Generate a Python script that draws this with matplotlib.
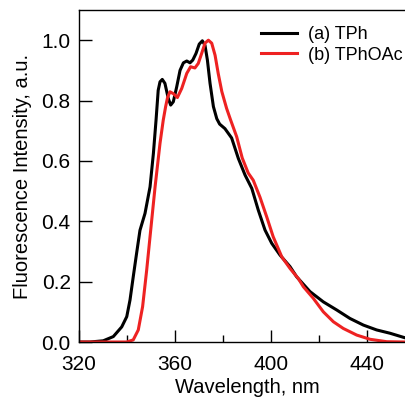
import matplotlib
matplotlib.use('Agg')
import matplotlib.pyplot as plt
from matplotlib.ticker import MultipleLocator

plt.rcParams['font.family'] = ['Liberation Sans', 'DejaVu Sans']

# (a) TPh
tph_nm = [320, 324.6, 330.1, 334.3, 337.8, 339.9, 341.25, 342.6, 344, 345.4,
          347.5, 349.6, 351.0, 352.1, 353.0, 353.75, 354.7, 355.8, 357.2, 358.2,
          359.3, 360.7, 362.1, 363.5, 364.9, 366.25, 367.4, 368.75, 370.1, 371.4,
          372.5, 373.5, 374.6, 376.0, 377.4, 378.6, 380.8, 383.6, 386.4, 389.2,
          392.0, 394.7, 397.5, 400.3, 403.75, 407.9, 410.7, 416.25, 421.8, 427.4,
          432.9, 438.5, 444.0, 449.6, 455.8, 460]
tph_int = [0.0, 0.0, 0.004, 0.018, 0.05, 0.084, 0.139, 0.216, 0.294, 0.37,
           0.426, 0.514, 0.625, 0.735, 0.834, 0.862, 0.87, 0.857, 0.807, 0.785,
           0.796, 0.845, 0.90, 0.925, 0.931, 0.925, 0.934, 0.956, 0.987, 0.998,
           0.983, 0.934, 0.857, 0.78, 0.74, 0.722, 0.707, 0.676, 0.608, 0.553,
           0.509, 0.437, 0.371, 0.327, 0.288, 0.25, 0.216, 0.167, 0.133, 0.106,
           0.078, 0.056, 0.04, 0.029, 0.014, 0.01]

# (b) TPhOAc
tphoac_nm = [320, 339.9, 342.6, 344.7, 346.5, 348.2, 349.6, 351.7, 353.75, 355.1,
             356.1, 356.9, 357.9, 359.3, 361.0, 362.8, 364.9, 366.5, 368.3, 369.7,
             371.1, 372.5, 373.9, 375.3, 376.7, 378.0, 379.5, 381.5, 383.2, 385.7,
             388.0, 390.5, 392.6, 395.4, 398.2, 400.9, 404.5, 407.9, 411.4, 413.5,
             417.6, 421.8, 426.0, 430.1, 435.7, 441.25, 448.2, 455.8, 460]
tphoac_int = [0.0, 0.0, 0.007, 0.04, 0.117, 0.238, 0.349, 0.514, 0.658, 0.735,
              0.78, 0.81, 0.829, 0.823, 0.81, 0.84, 0.89, 0.912, 0.908, 0.923,
              0.956, 0.99, 1.0, 0.99, 0.95, 0.89, 0.83, 0.774, 0.735, 0.68,
              0.61, 0.56, 0.536, 0.48, 0.415, 0.349, 0.282, 0.244, 0.21, 0.183,
              0.145, 0.10, 0.067, 0.045, 0.023, 0.009, 0.001, 0.0, 0.0]

fig = plt.figure(figsize=(4.05, 4.0), dpi=100)
ax = fig.add_axes([79 / 405, 58 / 400, 336 / 405, 332 / 400])

ax.plot(tph_nm, tph_int, color='black', lw=2.2, label='(a) TPh',
        solid_joinstyle='round')
ax.plot(tphoac_nm, tphoac_int, color='#ee2222', lw=2.2, label='(b) TPhOAc',
        solid_joinstyle='round')

ax.set_xlim(320, 460)
ax.set_ylim(0, 1.1)
ax.xaxis.set_major_locator(MultipleLocator(40))
ax.xaxis.set_minor_locator(MultipleLocator(20))
ax.yaxis.set_major_locator(MultipleLocator(0.2))
ax.yaxis.set_major_formatter(plt.FormatStrFormatter('%.1f'))
ax.tick_params(axis='both', which='major', direction='in', length=9, width=1,
               labelsize=15, pad=6)
ax.tick_params(axis='x', which='major', pad=9)
ax.tick_params(axis='x', which='minor', direction='in', length=5, width=1)
ax.tick_params(top=False, right=False)
for s in ax.spines.values():
    s.set_linewidth(1)

ax.set_xlabel('Wavelength, nm', fontsize=14.5, labelpad=3)
ax.set_ylabel('Fluorescence Intensity, a.u.', fontsize=14.5, labelpad=7)

ax.legend(loc='upper left', bbox_to_anchor=(0.52, 0.973), frameon=False,
          fontsize=13, handlelength=2.0, handletextpad=0.6, labelspacing=0.2,
          borderaxespad=0)

fig.savefig('out.png', dpi=100)
